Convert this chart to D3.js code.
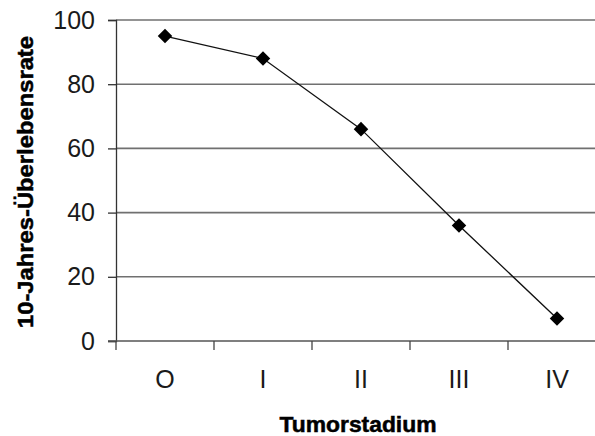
<!DOCTYPE html>
<html>
<head>
<meta charset="utf-8">
<script src="https://cdn.jsdelivr.net/npm/d3@7"></script>
<style>
  body { margin: 0; background: #fff; }
</style>
</head>
<body>
<svg id="chart" width="595" height="436"></svg>
<script>
// chart data
var stages = ["O", "I", "II", "III", "IV"];
var survival = [95, 88, 66, 36, 7];
var yTicks = [0, 20, 40, 60, 80, 100];

var plotLeft = 116, plotTop = 20, plotBottom = 341;
var bandWidth = 98;

var svg = d3.select("#chart");

var x = d3.scaleBand()
    .domain(stages)
    .range([plotLeft, plotLeft + bandWidth * stages.length]);

var y = d3.scaleLinear()
    .domain([0, 100])
    .range([plotBottom, plotTop]);

// horizontal gridlines
svg.append("g")
    .selectAll("line")
    .data(yTicks.filter(function (d) { return d > 0; }))
    .enter()
    .append("line")
    .attr("x1", plotLeft)
    .attr("x2", 595)
    .attr("y1", function (d) { return y(d); })
    .attr("y2", function (d) { return y(d); })
    .attr("stroke", "#707070")
    .attr("stroke-width", 1.6);

// y axis
var yAxis = svg.append("g")
    .attr("transform", "translate(" + plotLeft + ",0)")
    .call(d3.axisLeft(y).tickValues(yTicks).tickSize(8).tickPadding(13));
yAxis.select(".domain").attr("stroke", "#333").attr("stroke-width", 1.3);
yAxis.selectAll(".tick line").attr("stroke", "#333").attr("stroke-width", 1.3);
yAxis.selectAll(".tick text")
    .attr("font-family", "Liberation Sans, Arial, sans-serif")
    .attr("font-size", 25)
    .attr("fill", "#1a1a1a");

// x axis
var xAxis = svg.append("g")
    .attr("transform", "translate(0," + plotBottom + ")")
    .call(d3.axisBottom(x).tickSize(0).tickPadding(29));
xAxis.select(".domain").remove();
xAxis.append("line")
    .attr("x1", plotLeft - 8)
    .attr("x2", 595)
    .attr("stroke", "#555")
    .attr("stroke-width", 1.6);
xAxis.selectAll(".tick text")
    .attr("font-family", "Liberation Sans, Arial, sans-serif")
    .attr("font-size", 25)
    .attr("fill", "#1a1a1a");

// category separator ticks
xAxis.selectAll(".sep")
    .data(stages)
    .enter()
    .append("line")
    .attr("x1", function (d) { return x(d); })
    .attr("x2", function (d) { return x(d); })
    .attr("y1", 0)
    .attr("y2", 9)
    .attr("stroke", "#444")
    .attr("stroke-width", 1.3);

// line
var line = d3.line()
    .x(function (d, i) { return x(stages[i]) + x.bandwidth() / 2; })
    .y(function (d) { return y(d); });

svg.append("path")
    .datum(survival)
    .attr("d", line)
    .attr("fill", "none")
    .attr("stroke", "#111")
    .attr("stroke-width", 1.3);

// diamond markers (square turned 45 degrees)
svg.append("g")
    .selectAll("path")
    .data(survival)
    .enter()
    .append("path")
    .attr("d", d3.symbol().type(d3.symbolSquare).size(106))
    .attr("transform", function (d, i) {
        return "translate(" + (x(stages[i]) + x.bandwidth() / 2) + "," + y(d) + ") rotate(45)";
    })
    .attr("fill", "#000");

// axis titles
svg.append("text")
    .text("Tumorstadium")
    .attr("x", 358)
    .attr("y", 432)
    .attr("text-anchor", "middle")
    .attr("font-family", "Liberation Sans, Arial, sans-serif")
    .attr("font-weight", "bold")
    .attr("font-size", 22)
    .attr("textLength", 157)
    .attr("lengthAdjust", "spacingAndGlyphs")
    .attr("stroke", "#000")
    .attr("stroke-width", 0.5)
    .attr("fill", "#000");

svg.append("text")
    .text("10-Jahres-Überlebensrate")
    .attr("transform", "translate(33,182) rotate(-90)")
    .attr("text-anchor", "middle")
    .attr("font-family", "Liberation Sans, Arial, sans-serif")
    .attr("font-weight", "bold")
    .attr("font-size", 22)
    .attr("textLength", 292)
    .attr("lengthAdjust", "spacingAndGlyphs")
    .attr("stroke", "#000")
    .attr("stroke-width", 0.5)
    .attr("fill", "#000");
</script>
</body>
</html>
